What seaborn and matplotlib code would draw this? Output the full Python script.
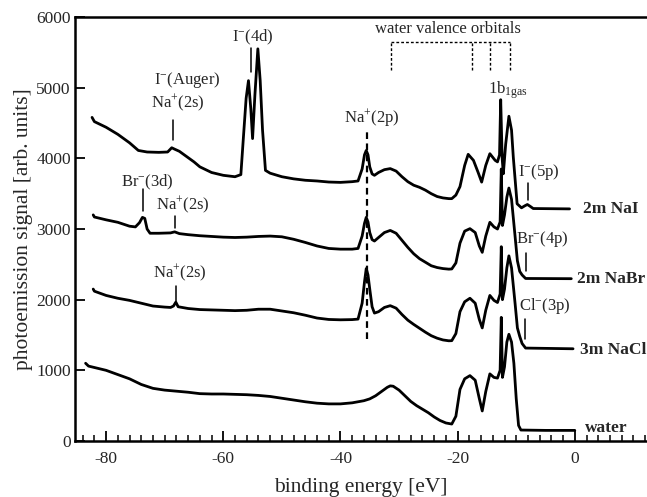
import numpy as np
import pandas as pd
import matplotlib
matplotlib.use("Agg")
import matplotlib.pyplot as plt
from matplotlib.ticker import MultipleLocator
import seaborn as sns

# ---------------- data ----------------
water_e = [-83.5, -83.0, -82, -80, -78, -76, -74, -72, -70, -68, -66, -64, -62, -60, -58, -56, -54, -52,
           -50, -48, -46, -44, -42, -40, -38, -36, -35, -34, -33, -32, -31.5, -31, -30, -29, -28, -27,
           -26, -25, -24, -23, -22, -21, -20.3, -19.6, -18.8, -17.9, -17.0, -16.3, -15.8, -15.2, -14.5,
           -13.8, -13.2, -12.75, -12.55, -12.35, -12.0, -11.6, -11.25, -10.8, -10.4, -10.0, -9.6, -9.2,
           -5, 0]
water_y = [1100, 1060, 1040, 1000, 940, 880, 800, 745, 720, 705, 690, 670, 665, 665, 660, 655, 645, 630,
           605, 580, 555, 535, 525, 525, 540, 570, 596, 640, 700, 760, 780, 775, 720, 640, 560, 500,
           450, 400, 340, 290, 255, 240, 350, 730, 880, 925, 860, 600, 425, 700, 950,
           900, 890, 1000, 1750, 900, 1050, 1400, 1510, 1400, 1100, 600, 220, 155,
           150, 150]

nacl_e = [-82.2, -82, -80, -78, -76, -74, -72, -70, -69, -68.5, -68.1, -67.7, -66, -64, -62, -60, -58,
          -56, -54, -52, -50, -48, -46, -44, -42, -40, -38, -37, -36.3, -35.9, -35.6, -35.3, -35.0,
          -34.6, -34.2, -33.5, -32.5, -31.5, -30.5, -29.5, -28.5, -27.5, -26.5, -25.5, -24.5, -23.5,
          -22.5, -21.5, -21, -20.3, -19.6, -18.8, -17.9, -17.0, -16.3, -15.8, -15.2, -14.5, -13.8,
          -13.2, -12.75, -12.55, -12.35, -12.0, -11.6, -11.25, -10.8, -10.2, -9.8, -9.4, -9.0, -8.4,
          -0.3]
nacl_y = [2150, 2120, 2060, 2020, 1990, 1950, 1910, 1895, 1890, 1910, 1965, 1900, 1875, 1860, 1855, 1850,
          1845, 1850, 1865, 1865, 1840, 1815, 1780, 1740, 1720, 1715, 1718, 1725, 1950, 2250, 2440,
          2350, 2150, 1900, 1810, 1830, 1890, 1915, 1880, 1790, 1710, 1650, 1595, 1540, 1490, 1455,
          1430, 1418, 1420, 1520, 1830, 1970, 2020, 1950, 1720, 1600, 1850, 2060, 1990,
          1960, 2080, 2750, 2000, 2150, 2450, 2620, 2450, 1950, 1600, 1480, 1380, 1315,
          1305]

nabr_e = [-82.2, -82, -80, -78, -76, -75, -74.3, -73.8, -73.4, -73.0, -72.5, -71, -69, -68.3, -67.5,
          -66, -64, -62, -60, -58, -56, -54, -52, -50, -48, -46, -44, -42, -40, -38, -37, -36.3,
          -35.9, -35.6, -35.3, -35.0, -34.6, -34.2, -33.5, -32.5, -31.5, -30.5, -29.5, -28.5, -27.5,
          -26.5, -25.5, -24.5, -23.5, -22.5, -21.5, -21, -20.3, -19.6, -18.8, -17.9, -17.0, -16.3,
          -15.8, -15.2, -14.5, -13.8, -13.2, -12.75, -12.55, -12.35, -12.0, -11.6, -11.25, -10.8,
          -10.2, -9.8, -9.4, -9.0, -8.4, -0.6]
nabr_y = [3200, 3170, 3130, 3095, 3040, 3030, 3090, 3165, 3150, 3000, 2940, 2940, 2945, 2960, 2935,
          2920, 2905, 2895, 2885, 2880, 2885, 2895, 2900, 2890, 2855, 2810, 2760, 2725, 2715, 2715,
          2725, 2900, 3080, 3165, 3100, 2950, 2850, 2830, 2880, 2950, 2980, 2940, 2840, 2740, 2650,
          2580, 2530, 2480, 2455, 2440, 2432, 2435, 2520, 2800, 2970, 3005, 2950, 2760,
          2670, 2900, 3095, 3030, 3000, 3100, 3850, 3050, 3200, 3450, 3580, 3420,
          2900, 2550, 2400, 2350, 2300, 2297]

nai_e = [-82.4, -82, -80, -78, -76, -74.5, -73, -71, -69.5, -68.8, -68.3, -67.5, -66.5, -65, -64, -62,
         -60, -58, -57, -56.6, -56.1, -55.7, -55.3, -55.0, -54.6, -54.1, -53.7, -53.3, -52.8, -52, -50,
         -48, -46, -44, -42, -40, -38, -37, -36.3, -35.9, -35.6, -35.3, -35.0, -34.6, -34.2, -33.5,
         -32.5, -31.5, -30.5, -29.5, -28.5, -27.5, -26.5, -25.5, -24.5, -23.5, -22.5, -21.5, -21,
         -20.3, -19.6, -18.8, -18.2, -17.3, -16.5, -15.9, -15.2, -14.5, -13.6, -13.2, -12.85, -12.65,
         -12.4, -12.2, -11.8, -11.25, -10.8, -10.5, -9.85, -9.1, -8.5, -8.1, -7.6, -7.1, -0.9]
nai_y = [4580, 4520, 4440, 4340, 4220, 4112, 4090, 4085, 4090, 4150, 4130, 4100, 4040, 3950, 3880, 3800,
         3760, 3740, 3770, 4255, 4850, 5100, 4700, 4280, 4900, 5550, 5100, 4400, 3830, 3790, 3740,
         3710, 3690, 3680, 3665, 3660, 3670, 3680, 3850, 4050, 4112, 4050, 3880, 3780, 3760, 3800,
         3840, 3855, 3820, 3740, 3670, 3620, 3590, 3550, 3500, 3460, 3440, 3430, 3430,
         3480, 3600, 3900, 4057, 3972, 3800, 3664, 3900, 4066, 3972, 3950, 4050, 4830,
         4000, 3782, 4200, 4596, 4400, 4018, 3357, 3300, 3330, 3347, 3320, 3290, 3285]

series_names = ["water", "3m NaCl", "2m NaBr", "2m NaI"]

# ---------------- style ----------------
sns.set_style("ticks")
plt.rcParams["font.family"] = ["Liberation Serif", "DejaVu Serif"]
plt.rcParams["mathtext.fontset"] = "custom"
plt.rcParams["mathtext.rm"] = "Liberation Serif"
plt.rcParams["mathtext.it"] = "Liberation Serif:italic"
plt.rcParams["mathtext.bf"] = "Liberation Serif:bold"
plt.rcParams["axes.unicode_minus"] = False

df = pd.concat([
    pd.DataFrame({"E": water_e, "I": water_y, "s": series_names[0]}),
    pd.DataFrame({"E": nacl_e, "I": nacl_y, "s": series_names[1]}),
    pd.DataFrame({"E": nabr_e, "I": nabr_y, "s": series_names[2]}),
    pd.DataFrame({"E": nai_e, "I": nai_y, "s": series_names[3]}),
], ignore_index=True)

fig = plt.figure(figsize=(6.47, 4.97), dpi=100)
ax = fig.add_axes([0.116, 0.1127, 0.882, 0.853])

sns.lineplot(data=df, x="E", y="I", hue="s", units="s", estimator=None, sort=False,
             palette={n: "black" for n in series_names}, linewidth=2.0, legend=False, ax=ax)

ax.set_xlim(-85.3, 12.1)
ax.set_ylim(0, 6000)
ax.xaxis.set_major_locator(MultipleLocator(20))
ax.xaxis.set_minor_locator(MultipleLocator(2))
ax.yaxis.set_major_locator(MultipleLocator(1000))
ax.tick_params(axis="both", which="both", direction="in", labelsize=12.5, color="black")
ax.tick_params(axis="x", which="major", length=7, width=1.3, pad=7)
ax.tick_params(axis="x", which="minor", length=4, width=1.1)
ax.tick_params(axis="y", which="major", length=7, width=1.3, pad=3)
ax.tick_params(top=False, right=False, which="both")
for side in ["left", "bottom", "top"]:
    ax.spines[side].set_linewidth(1.8)
    ax.spines[side].set_color("black")
ax.spines["right"].set_visible(False)

ax.set_xlabel("binding energy [eV]", fontsize=15.5, labelpad=8)
ax.set_ylabel("photoemission signal [arb. units]", fontsize=15.5, labelpad=2)

fs = 12
# annotations
ax.text(-54.9, 5716, "I$^{-}$(4d)", ha="center", va="center", fontsize=fs)
ax.plot([-55.3, -55.3], [5220, 5560], color="black", lw=1.1)

ax.text(-66.2, 5106, "I$^{-}$(Auger)", ha="center", va="center", fontsize=fs)
ax.text(-67.7, 4780, "Na$^{+}$(2s)", ha="center", va="center", fontsize=fs)
ax.plot([-68.6, -68.6], [4255, 4539], color="black", lw=1.1)

ax.text(-73.0, 3660, "Br$^{-}$(3d)", ha="center", va="center", fontsize=fs)
ax.plot([-73.7, -73.7], [3248, 3560], color="black", lw=1.1)
ax.text(-66.9, 3333, "Na$^{+}$(2s)", ha="center", va="center", fontsize=fs)
ax.plot([-68.2, -68.2], [3021, 3191], color="black", lw=1.1)

ax.text(-67.4, 2369, "Na$^{+}$(2s)", ha="center", va="center", fontsize=fs)
ax.plot([-68.1, -68.1], [1986, 2199], color="black", lw=1.1)

ax.text(-34.6, 4567, "Na$^{+}$(2p)", ha="center", va="center", fontsize=fs)
ax.plot([-35.5, -35.5], [1447, 4369], color="black", lw=1.6, ls=(0, (3, 2)))

ax.text(-21.7, 5830, "water valence orbitals", ha="center", va="center", fontsize=fs)
ax.plot([-31.4, -11.0], [5645, 5645], color="black", lw=1.0, ls=(0, (2, 1.5)))
for xv in [-31.4, -17.6, -14.5, -11.0]:
    ax.plot([xv, xv], [5248, 5645], color="black", lw=1.0, ls=(0, (2, 1.5)))

ax.text(-11.4, 4965, "1b$_{\\mathregular{1gas}}$", ha="center", va="center", fontsize=fs)

ax.text(-6.1, 3801, "I$^{-}$(5p)", ha="center", va="center", fontsize=fs)
ax.plot([-8.0, -8.0], [3404, 3645], color="black", lw=1.1)
ax.text(-5.6, 2865, "Br$^{-}$(4p)", ha="center", va="center", fontsize=fs)
ax.plot([-8.36, -8.36], [2411, 2667], color="black", lw=1.1)
ax.text(-5.1, 1915, "Cl$^{-}$(3p)", ha="center", va="center", fontsize=fs)
ax.plot([-8.5, -8.5], [1447, 1730], color="black", lw=1.1)

# curve labels
ax.text(1.4, 3277, "2m NaI", ha="left", va="center", fontsize=12.5, fontweight="bold")
ax.text(0.34, 2298, "2m NaBr", ha="left", va="center", fontsize=12.5, fontweight="bold")
ax.text(0.85, 1291, "3m NaCl", ha="left", va="center", fontsize=12.5, fontweight="bold")
ax.text(1.7, 184, "water", ha="left", va="center", fontsize=12.5, fontweight="bold")

fig.savefig("out.png", dpi=100)
